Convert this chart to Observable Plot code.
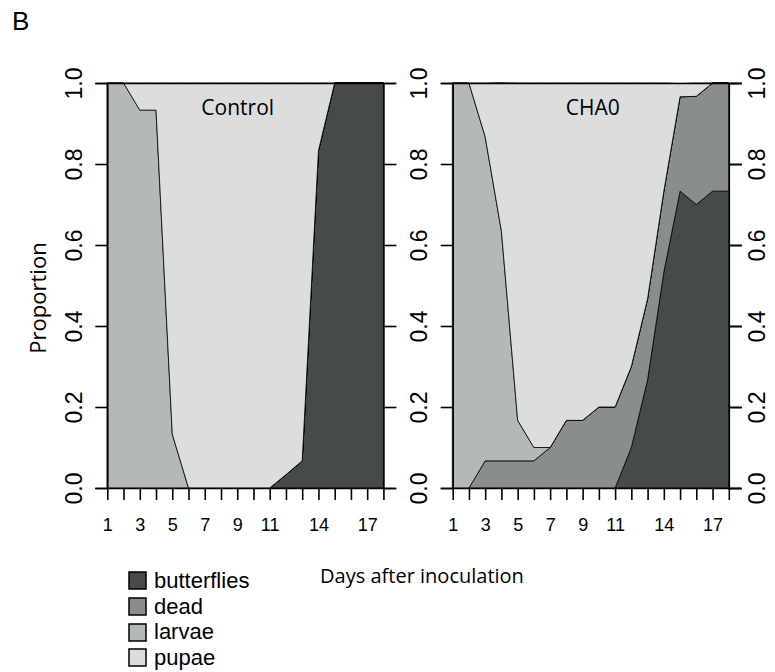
<!DOCTYPE html>
<html>
<head>
<meta charset="utf-8">
<script src="https://cdn.jsdelivr.net/npm/d3@7"></script>
<script src="https://cdn.jsdelivr.net/npm/@observablehq/plot@0.6"></script>
<style>
  html, body { margin:0; padding:0; background:#fff; }
  #fig { position:relative; width:775px; height:672px; overflow:hidden; color:#000; }
  #fig > * { position:absolute; }
  #tag { left:12px; top:6px; font:26px "Liberation Sans", Arial, sans-serif; }
  #ylab { left:37px; top:298px; transform:translate(-50%,-50%) rotate(-90deg); font:22px "Open Sans", sans-serif; white-space:nowrap; }
  #xlab { left:422px; top:575px; transform:translate(-50%,-50%); font:20px "Open Sans", sans-serif; white-space:nowrap; }
  #legend { left:129px; top:568px; }
  .lg-swatches { margin:0 !important; font-family:"Liberation Sans", Arial, sans-serif !important; font-size:22px !important; color:#000; }
  .lg-swatch { display:flex !important; align-items:center; height:25.7px; padding:0 !important; margin:0 !important; }
  .lg-swatch > svg { margin-right:8px !important; overflow:visible; }
  .lg-swatch svg rect { stroke:#000; stroke-width:1.5px; }
</style>
</head>
<body>
<div id="fig">
  <div id="tag">B</div>
  <div id="ylab">Proportion</div>
  <div id="xlab">Days after inoculation</div>
</div>
<script>
// ---- data ----
const days = [1,2,3,4,5,6,7,8,9,10,11,12,13,14,15,16,17,18];
const xTickLabels = [1,3,5,7,9,11,14,17];
const yTicks = [0,0.2,0.4,0.6,0.8,1.0];
const categories = ["butterflies","dead","larvae","pupae"];
const colors = ["#474a4b","#8a8d8e","#b5b8b9","#dcdddd"];
const panels = ["Control","CHA0"];

const controlButterflies = [0,0,0,0,0,0,0,0,0,0,0,0.033,0.067,0.833,1,1,1,1];
const controlDead        = [0,0,0,0,0,0,0,0,0,0,0,0,0,0,0,0,0,0];
const controlLarvae      = [1,1,0.933,0.933,0.133,0,0,0,0,0,0,0,0,0,0,0,0,0];
const controlPupae       = [0,0,0.067,0.067,0.867,1,1,1,1,1,1,0.967,0.933,0.167,0,0,0,0];

const cha0Butterflies = [0,0,0,0,0,0,0,0,0,0,0,0.1,0.267,0.533,0.733,0.7,0.733,0.733];
const cha0Dead        = [0,0,0.067,0.067,0.067,0.067,0.1,0.167,0.167,0.2,0.2,0.2,0.2,0.2,0.233,0.267,0.267,0.267];
const cha0Larvae      = [1,1,0.8,0.567,0.1,0.033,0,0,0,0,0,0,0,0,0,0,0,0];
const cha0Pupae       = [0,0,0.133,0.367,0.833,0.9,0.9,0.833,0.833,0.8,0.8,0.7,0.533,0.267,0.033,0.033,0,0];

const series = {
  Control: {butterflies: controlButterflies, dead: controlDead, larvae: controlLarvae, pupae: controlPupae},
  CHA0:    {butterflies: cha0Butterflies,    dead: cha0Dead,    larvae: cha0Larvae,    pupae: cha0Pupae}
};
const rows = [];
panels.forEach(p => categories.forEach(c => days.forEach((d, i) =>
  rows.push({panel: p, category: c, day: d, value: series[p][c][i]}))));

const yFmt = d3.format(".1f");
const font = "'Liberation Sans', Arial, sans-serif";

const chart = Plot.plot({
  width: 775,
  height: 545,
  marginLeft: 107.3,
  marginRight: 46.2,
  marginTop: 83,
  marginBottom: 57,
  style: {fontFamily: font, color: "#000", background: "transparent", overflow: "visible"},
  facet: {marginTop: 0, marginBottom: 0, marginLeft: 0, marginRight: 0},
  fx: {domain: panels, paddingInner: 0.2006, paddingOuter: 0, round: false, axis: null, label: null},
  x: {domain: [1, 18], label: null},
  y: {domain: [0, 1], label: null},
  color: {domain: categories, range: colors},
  marks: [
    Plot.areaY(rows, {x: "day", y: "value", z: "category", fill: "category", fx: "panel",
      order: categories, stroke: "#000", strokeWidth: 0.8, strokeLinejoin: "miter"}),
    Plot.ruleY([0, 1], {insetLeft: -12, insetRight: -12, stroke: "#000", strokeWidth: 1.6}),
    Plot.ruleX([1, 18], {stroke: "#000", strokeWidth: 1.6}),
    Plot.axisX({ticks: days, tickSize: 12, tickPadding: 18, strokeWidth: 1.6, fontSize: 18,
      tickFormat: d => xTickLabels.includes(d) ? String(d) : "", label: null}),
    Plot.axisY({anchor: "left", facetAnchor: null, ticks: yTicks, tickSize: 12, tickPadding: 14,
      tickRotate: -90, strokeWidth: 1.6, fontSize: 23, tickFormat: yFmt, label: null}),
    Plot.axisY({anchor: "right", facetAnchor: null, ticks: yTicks, tickSize: 12,
      strokeWidth: 1.6, tickFormat: () => "", label: null}),
    Plot.axisY({anchor: "right", facetAnchor: "right", ticks: yTicks, tickSize: 12, tickPadding: 7,
      tickRotate: -90, lineAnchor: "top", strokeWidth: 1.6, fontSize: 23, tickFormat: yFmt, label: null}),
    Plot.text(["Control"], {fx: d => d, x: 9, y: 1, dy: 25, text: d => d, fontSize: 21,
      fontFamily: "'Open Sans', sans-serif"}),
    Plot.text(["CHA0"], {fx: d => d, x: 9.6, y: 1, dy: 25, text: d => d, fontSize: 21,
      fontFamily: "'Open Sans', sans-serif"})
  ]
});
chart.style.left = "0px";
chart.style.top = "0px";
document.getElementById("fig").appendChild(chart);

const legend = Plot.legend({
  color: {domain: categories, range: colors},
  legend: "swatches",
  columns: 1,
  swatchSize: 17,
  className: "lg",
  style: {fontFamily: font, fontSize: "22px", color: "#000"}
});
legend.id = "legend";
document.getElementById("fig").appendChild(legend);
</script>
</body>
</html>
